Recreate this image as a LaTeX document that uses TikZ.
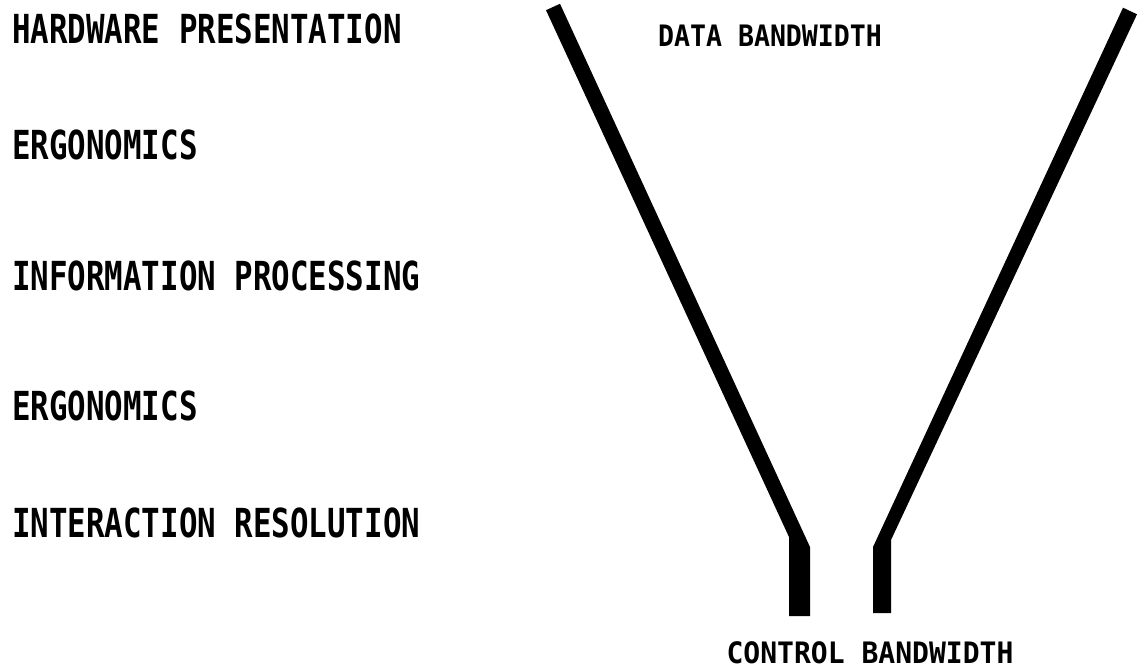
\documentclass[tikz,border=0pt]{standalone}
\usepackage{fontspec}
\newfontfamily\leftfont[FakeStretch=0.77]{DejaVu Sans Mono Bold}
\newfontfamily\rightfont[FakeStretch=0.9]{DejaVu Sans Mono Bold}
\newfontfamily\ctrlfont[FakeStretch=0.95]{DejaVu Sans Mono Bold}
\begin{document}
\begin{tikzpicture}[x=1pt,y=-1pt,
  lefttext/.style={anchor=base west,inner sep=0pt,font=\leftfont\fontsize{40}{40}\selectfont},
  bwtext/.style={anchor=base,inner sep=0pt,font=\rightfont\fontsize{29.5}{29.5}\selectfont},
  funnel/.style={fill=black,draw=none}]
\useasboundingbox (0,0) rectangle (1139,671);
\node[lefttext] (hw) at (12,44) {HARDWARE PRESENTATION};
\node[lefttext] (erg1) at (12,160) {ERGONOMICS};
\node[lefttext] (info) at (12,290) {INFORMATION PROCESSING};
\node[lefttext] (erg2) at (12,420) {ERGONOMICS};
\node[lefttext] (inter) at (12,537) {INTERACTION RESOLUTION};
\node[bwtext] (data) at (770,47) {DATA BANDWIDTH};
\node[bwtext,font=\ctrlfont\fontsize{29.5}{29.5}\selectfont] (ctrl) at (870,663) {CONTROL BANDWIDTH};
% left side of funnel
\fill[funnel] (546,10.2) -- (560,3.8) -- (810,547) -- (810,616) -- (789,616) -- (789,537) -- cycle;
% right side of funnel
\fill[funnel] (1123,7.7) -- (1137,14.3) -- (891,540) -- (891,613) -- (873,613) -- (873,547) -- cycle;
\end{tikzpicture}
\end{document}
